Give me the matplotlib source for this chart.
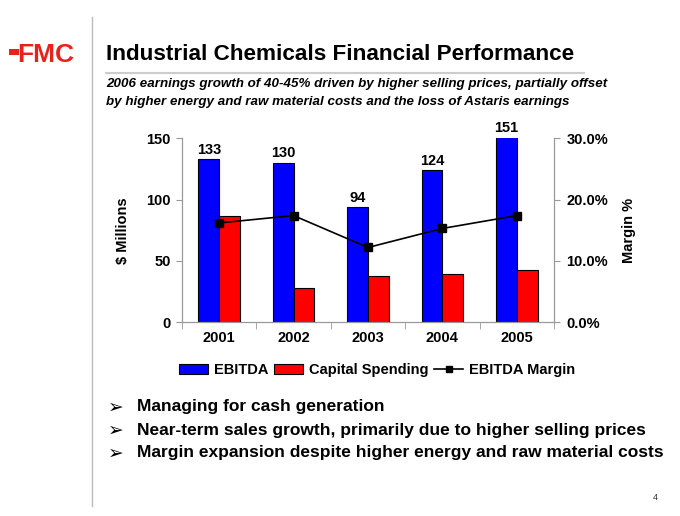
import matplotlib
matplotlib.use("Agg")
import matplotlib.pyplot as plt
import numpy as np
from matplotlib.lines import Line2D
from matplotlib.patches import Rectangle

plt.rcParams['font.family'] = ['Liberation Sans', 'DejaVu Sans']

years = ["2001", "2002", "2003", "2004", "2005"]
ebitda = [133, 130, 94, 124, 151]
capex = [87, 28, 38, 39, 43]
margin = [16.2, 17.4, 12.2, 15.3, 17.4]
left_ticks = [0, 50, 100, 150]
right_ticks = [0, 10, 20, 30]
bullets = ["Managing for cash generation",
           "Near-term sales growth, primarily due to higher selling prices",
           "Margin expansion despite higher energy and raw material costs"]

fig = plt.figure(figsize=(6.8, 5.16), dpi=100)
W, H = 680, 516
def fx(x): return x / W
def fy(y): return 1 - y / H

ax = fig.add_axes([fx(182), fy(322.3), fx(554) - fx(182), fy(138.3) - fy(322.3)])
x = np.arange(len(years))
bw = 0.28
ax.bar(x - bw / 2, ebitda, bw, color='#0000FF', edgecolor='black', linewidth=0.8, zorder=2)
ax.bar(x + bw / 2, capex, bw, color='#FF0000', edgecolor='black', linewidth=0.8, zorder=2)
for xi, v in zip(x, ebitda):
    ax.text(xi - bw / 2, v + 2, str(v), ha='center', va='bottom', fontsize=10.5, fontweight='bold')
ax.set_xlim(-0.5, len(years) - 0.5)
ax.set_ylim(0, 150)
ax.set_yticks(left_ticks)
ax.set_yticklabels([str(t) for t in left_ticks], fontsize=10.5, fontweight='bold')
ax.set_xticks(x)
ax.set_xticklabels(years, fontsize=10.5, fontweight='bold')
ax.set_xticks(np.arange(len(years) + 1) - 0.5, minor=True)
ax.tick_params(axis='x', which='major', length=0, pad=6)
ax.tick_params(axis='x', which='minor', length=5, color='#999999', direction='out')
ax.tick_params(axis='y', length=4, color='#999999', direction='out', pad=4)
ax.spines['top'].set_visible(False)
for s in ['left', 'bottom', 'right']:
    ax.spines[s].set_color('#999999')
ax.set_ylabel('$ Millions', fontsize=10.5, fontweight='bold', labelpad=12)

ax2 = ax.twinx()
ax2.plot(x, margin, color='black', linewidth=1.2, marker='s', markersize=5.5, zorder=3)
ax2.set_ylim(0, 30)
ax2.set_yticks(right_ticks)
ax2.set_yticklabels(["%.1f%%" % t for t in right_ticks], fontsize=10.5, fontweight='bold')
ax2.tick_params(axis='y', length=4, color='#999999', direction='out', pad=5)
ax2.spines['top'].set_visible(False)
for s in ['left', 'bottom', 'right']:
    ax2.spines[s].set_color('#999999')
ax2.set_ylabel('Margin %', fontsize=10.5, fontweight='bold', labelpad=10)

# legend
handles = [Rectangle((0, 0), 1, 1, facecolor='#0000FF', edgecolor='black', linewidth=0.8),
           Rectangle((0, 0), 1, 1, facecolor='#FF0000', edgecolor='black', linewidth=0.8),
           Line2D([0], [0], color='black', linewidth=1.2, marker='s', markersize=4)]
fig.legend(handles, ["EBITDA", "Capital Spending", "EBITDA Margin"],
           loc='center', bbox_to_anchor=(fx(377), fy(370)), ncol=3, frameon=False,
           prop={'size': 10.5, 'weight': 'bold'}, handlelength=2.0, handleheight=0.7,
           columnspacing=0.4, handletextpad=0.4)

# decorations
fig.add_artist(Line2D([fx(92), fx(92)], [fy(17), fy(506)], color='#BBBBBB', linewidth=1))
fig.add_artist(Line2D([fx(106), fx(584)], [fy(72.5), fy(72.5)], color='#CCCCCC', linewidth=1.5))
fig.add_artist(Rectangle((fx(9), fy(55)), fx(10), fy(49) - fy(55), color='#E8221A', linewidth=0))
fig.text(fx(17), fy(62), "FMC", color='#E8221A', fontsize=19, fontweight='heavy',
         ha='left', va='baseline', family='Liberation Sans')

fig.text(fx(106), fy(55), "Industrial Chemicals Financial Performance",
         fontsize=16.2, fontweight='bold', ha='left', va='center')
fig.text(fx(106), fy(84), "2006 earnings growth of 40-45% driven by higher selling prices, partially offset",
         fontsize=9.6, fontweight='bold', style='italic', ha='left', va='center')
fig.text(fx(106), fy(102), "by higher energy and raw material costs and the loss of Astaris earnings",
         fontsize=9.6, fontweight='bold', style='italic', ha='left', va='center')

for i, b in enumerate(bullets):
    yy = fy(407 + 23 * i)
    fig.text(fx(108), yy, "\u27a2", fontsize=13.5, ha='left', va='center', family=['DejaVu Sans'],
             fontweight='bold')
    fig.text(fx(137), yy, b, fontsize=12.5, fontweight='bold', ha='left', va='center')

fig.text(fx(655), fy(498), "4", fontsize=6.5, ha='center', va='center', color='#333333')

fig.savefig("out.png", dpi=100)
